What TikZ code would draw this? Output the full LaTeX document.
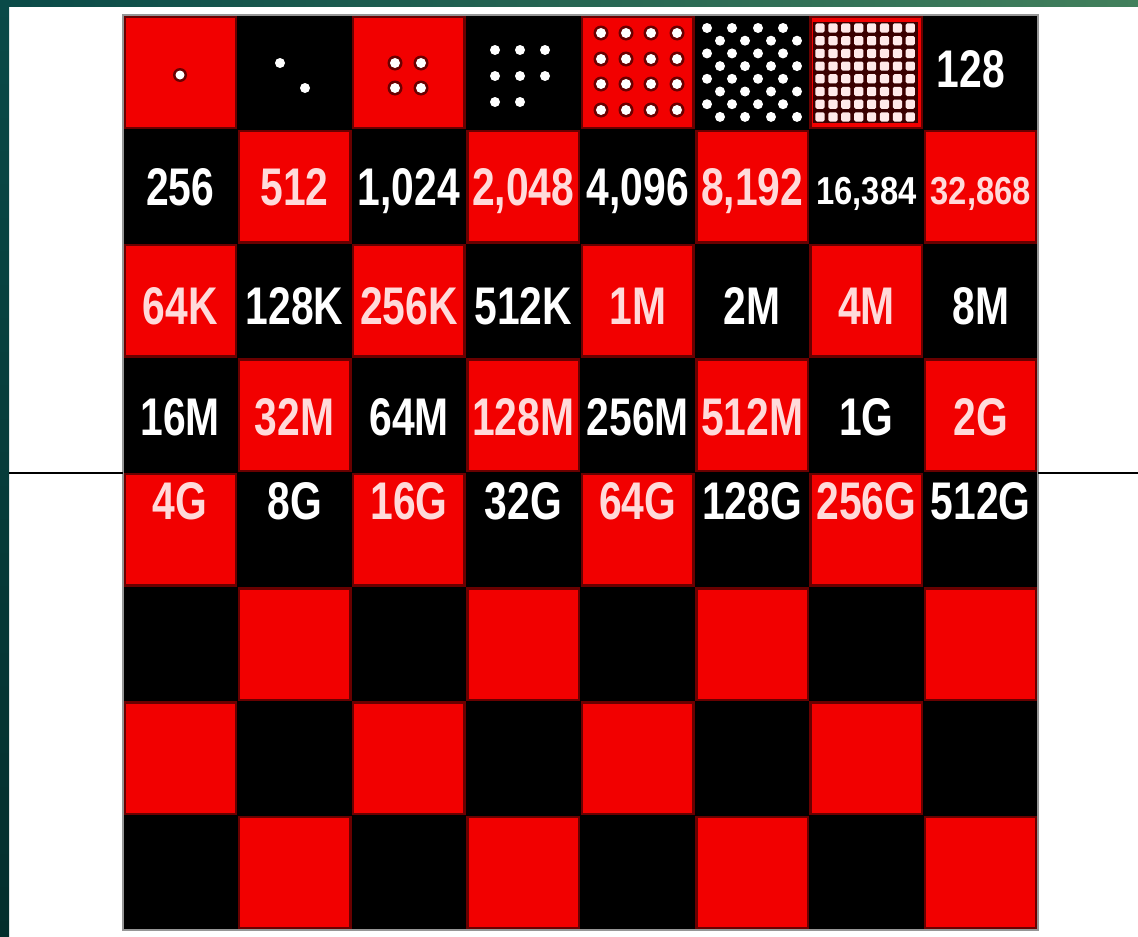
\documentclass[tikz,border=0pt]{standalone}
\usepackage{graphicx}
\usepackage{fontspec}
\setmainfont{Liberation Sans}
\definecolor{boardred}{RGB}{242,0,0}
\definecolor{edgered}{RGB}{105,0,0}
\definecolor{pinktext}{RGB}{255,218,218}
\definecolor{tealA}{RGB}{10,74,72}
\definecolor{tealB}{RGB}{66,128,92}
\definecolor{tealC}{RGB}{3,46,44}
\definecolor{rimgray}{RGB}{150,150,150}
\newcommand{\sqz}[1]{\scalebox{0.77}[1]{#1}}
\newcommand{\sqzs}[1]{\scalebox{0.84}[1]{#1}}
\begin{document}
\begin{tikzpicture}[x=1pt,y=-1pt,
  redcell/.style={rectangle, fill=boardred, draw=edgered, line width=2.5pt, minimum size=111.5pt, inner sep=0pt, outer sep=0pt},
  lbl/.style={inner sep=0pt, text depth=0pt, font=\bfseries\fontsize{53}{53}\selectfont, text height=38pt},
  slbl/.style={inner sep=0pt, text depth=0pt, font=\bfseries\fontsize{39}{39}\selectfont, text height=28pt},
  wl/.style={lbl, text=white},
  pl/.style={lbl, text=pinktext},
  wls/.style={slbl, text=white},
  pls/.style={slbl, text=pinktext},
  dot/.style={fill=white},
  halo/.style={fill=edgered}]
\useasboundingbox (0,0) rectangle (1138,937);
\fill[white] (0,0) rectangle (1138,937);
% frame strips
\shade[top color=tealA, bottom color=tealC] (0,0) rectangle (9,937);
\shade[left color=tealA, right color=tealB] (0,0) rectangle (1138,6);
% board
\fill[black] (123,15) rectangle (1038,930);
\foreach \r in {1,...,8}{
  \foreach \c in {1,...,8}{
    \pgfmathtruncatemacro\oddsum{mod(\r+\c,2)}
    \ifnum\oddsum=0
      \node[redcell] (cell-\r-\c) at ({123+(\c-0.5)*114.375},{15+(\r-0.5)*114.375}) {};
    \else
      \coordinate (cell-\r-\c) at ({123+(\c-0.5)*114.375},{15+(\r-0.5)*114.375});
    \fi
  }
}
\draw[rimgray, line width=1.5pt] (123,15) rectangle (1038,930);
% horizontal rule
\coordinate (lineL) at (9,473);
\coordinate (boardL) at (123,473);
\coordinate (boardR) at (1038,473);
\coordinate (lineR) at (1138,473);
\draw[black, line width=2.5pt] (lineL) -- (boardL);
\draw[black, line width=2.5pt] (boardR) -- (lineR);
% row 1 dots
\fill[halo] (180,75) circle (7); \fill[dot] (180,75) circle (4.5);
\fill[dot] (280,63) circle (5); \fill[dot] (305,88) circle (5);
\foreach \x in {395,421}{\foreach \y in {63,88}{\fill[halo] (\x,\y) circle (7.5); \fill[dot] (\x,\y) circle (5);}}
\foreach \x/\y in {495/50,520/50,545/50,495/76,520/76,545/76,495/102,520/102}{\fill[dot] (\x,\y) circle (5);}
\foreach \x in {601,626,651,677}{\foreach \y in {33,59,84,110}{\fill[halo] (\x,\y) circle (7.5); \fill[dot] (\x,\y) circle (5);}}
\foreach \k in {0,...,7}{
  \pgfmathsetmacro\yy{28+\k*12.7}
  \pgfmathtruncatemacro\odd{mod(\k,2)}
  \ifnum\odd=0
    \foreach \x in {707,732,758,783}{\fill[dot] (\x,\yy) circle (5);}
  \else
    \foreach \x in {720,745,771,797}{\fill[dot] (\x,\yy) circle (5);}
  \fi
}
\fill[edgered!55!black] (813,22) rectangle (918,123);
\foreach \i in {0,...,7}{\foreach \j in {0,...,7}{
  \fill[pinktext!60!white, rounded corners=1.5pt] ({820+\i*12.9-4.6},{28+\j*12.7-4.6}) rectangle ++(9.2,9.2);
}}
\node[wl] (t128) at (971,68) {\sqz{128}};
% row 2
\node[wl] (t256) at (180.2,186) {\sqz{256}};
\node[pl] (t512) at (294.6,186) {\sqz{512}};
\node[wl] (t1024) at (409.0,186) {\sqz{1,024}};
\node[pl] (t2048) at (523.3,186) {\sqz{2,048}};
\node[wl] (t4096) at (637.7,186) {\sqz{4,096}};
\node[pl] (t8192) at (752.1,186) {\sqz{8,192}};
\node[wls] (t16384) at (866.4,190) {\sqzs{16,384}};
\node[pls] (t32868) at (980.8,190) {\sqzs{32,868}};
% row 3
\node[pl] (t64K) at (180.2,305) {\sqz{64K}};
\node[wl] (t128K) at (294.6,305) {\sqz{128K}};
\node[pl] (t256K) at (409.0,305) {\sqz{256K}};
\node[wl] (t512K) at (523.3,305) {\sqz{512K}};
\node[pl] (t1M) at (637.7,305) {\sqz{1M}};
\node[wl] (t2M) at (752.1,305) {\sqz{2M}};
\node[pl] (t4M) at (866.4,305) {\sqz{4M}};
\node[wl] (t8M) at (980.8,305) {\sqz{8M}};
% row 4
\node[wl] (t16M) at (180.2,416) {\sqz{16M}};
\node[pl] (t32M) at (294.6,416) {\sqz{32M}};
\node[wl] (t64M) at (409.0,416) {\sqz{64M}};
\node[pl] (t128M) at (523.3,416) {\sqz{128M}};
\node[wl] (t256M) at (637.7,416) {\sqz{256M}};
\node[pl] (t512M) at (752.1,416) {\sqz{512M}};
\node[wl] (t1G) at (866.4,416) {\sqz{1G}};
\node[pl] (t2G) at (980.8,416) {\sqz{2G}};
% row 5
\node[pl] (t4G) at (180.2,500) {\sqz{4G}};
\node[wl] (t8G) at (294.6,500) {\sqz{8G}};
\node[pl] (t16G) at (409.0,500) {\sqz{16G}};
\node[wl] (t32G) at (523.3,500) {\sqz{32G}};
\node[pl] (t64G) at (637.7,500) {\sqz{64G}};
\node[wl] (t128G) at (752.1,500) {\sqz{128G}};
\node[pl] (t256G) at (866.4,500) {\sqz{256G}};
\node[wl] (t512G) at (980.8,500) {\sqz{512G}};
\end{tikzpicture}
\end{document}
